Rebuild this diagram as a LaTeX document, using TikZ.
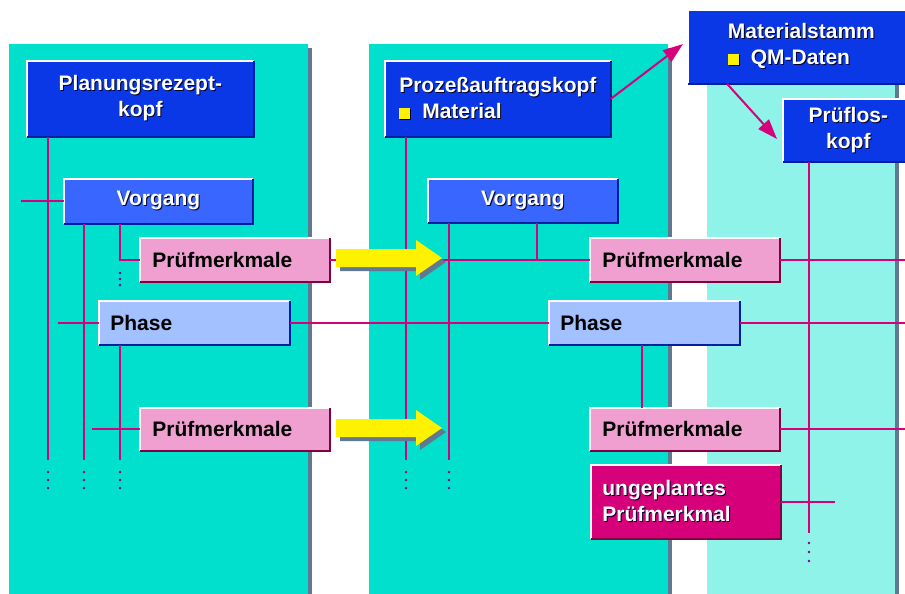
\documentclass[tikz,border=0pt]{standalone}
\usepackage{fontspec}
\setmainfont{Liberation Sans}
\usetikzlibrary{arrows.meta}

\definecolor{panelteal}{RGB}{0,224,204}
\definecolor{panellight}{RGB}{143,243,234}
\definecolor{panelshadow}{RGB}{96,120,144}
\definecolor{kopfblue}{RGB}{10,56,230}
\definecolor{vorgblue}{RGB}{56,102,255}
\definecolor{phaseblue}{RGB}{163,192,255}
\definecolor{merkpink}{RGB}{240,160,208}
\definecolor{merkmag}{RGB}{214,0,122}
\definecolor{edgeblue}{RGB}{0,32,160}
\definecolor{edgered}{RGB}{128,0,64}
\definecolor{linkmag}{RGB}{214,0,122}
\definecolor{dotpurple}{RGB}{128,0,128}
\definecolor{txtshadow}{RGB}{0,0,40}

\newcommand{\shd}[1]{\leavevmode\rlap{\kern1pt\raisebox{-1pt}{\color{txtshadow}#1}}#1}
\newcommand{\qmsq}{\rlap{\kern1pt\raisebox{-1pt}{\color{txtshadow}\rule{11pt}{11pt}}}\textcolor{yellow}{\rule{11pt}{11pt}}}

\tikzset{every picture/.style={line width=0.75pt}}
\tikzset{
  box/.style={anchor=north west, inner sep=0pt, font=\fontsize{21}{26}\selectfont\bfseries},
  kopf/.style={box, fill=kopfblue, text=white, align=center, minimum width=226pt, minimum height=75pt},
  vorg/.style={box, fill=vorgblue, text=white, minimum width=188pt, minimum height=44pt},
  merk/.style={box, fill=merkpink, text=black, inner xsep=12pt, text width=165pt, minimum height=43pt, align=left},
  phase/.style={box, fill=phaseblue, text=black, inner xsep=11pt, text width=168pt, minimum height=43pt, align=left},
  ungeplant/.style={box, fill=merkmag, text=white, inner xsep=11pt, text width=167pt, minimum height=73pt, align=left},
  link/.style={draw=linkmag, line width=2pt},
  linktip/.style={link, -{Triangle[length=20pt,width=14pt]}}
}

\begin{document}
\begin{tikzpicture}[x=1pt,y=1pt,yscale=-1]
	\useasboundingbox (0,0) rectangle (905,594);
	\clip (0,0) rectangle (905,594);
	\fill[white] (0,0) rectangle (905,594);

	%Shape: Panels with shadow
	\fill[panelshadow] (13,48) rectangle (312,600);
	\fill[panelteal] (9,44) rectangle (308,600);
	\fill[panelshadow] (373,48) rectangle (672,600);
	\fill[panelteal] (369,44) rectangle (668,600);
	\fill[panelshadow] (711,48) rectangle (899,600);
	\fill[panellight] (707,44) rectangle (895,600);

	% Boxes, left panel
	\node[kopf] (prk) at (27,61) {\shd{Planungsrezept-}\\\shd{kopf}};
	\node[vorg] (vg1) at (64,179) {\shd{Vorgang}};
	\node[merk] (pm1) at (140,238) {Prüfmerkmale};
	\node[phase] (ph1) at (99,301) {Phase};
	\node[merk, minimum height=42pt] (pm2) at (140,408) {Prüfmerkmale};

	% Boxes, middle panel
	\node[kopf, align=left, minimum width=225pt] (pak) at (385,61) {\shd{Prozeßauftragskopf}\\\qmsq\hspace{12pt}\shd{Material}};
	\node[vorg, minimum width=189pt, minimum height=43pt] (vg2) at (428,179) {\shd{Vorgang}};
	\node[merk] (pm3) at (590,238) {Prüfmerkmale};
	\node[phase] (ph2) at (549,301) {Phase};
	\node[merk, minimum height=42pt] (pm4) at (590,408) {Prüfmerkmale};
	\node[ungeplant] (upm) at (591,465) {\shd{ungeplantes}\\\shd{Prüfmerkmal}};

	% Boxes, right panel
	\node[kopf, align=left, minimum height=73pt] (msd) at (688,10) {\shd{Materialstamm}\\\qmsq\hspace{12pt}\shd{QM-Daten}};
	\node[kopf, minimum width=130pt, minimum height=62pt] (plk) at (783,99) {\shd{Prüflos-}\\\shd{kopf}};

	% raised edges
	\foreach \n/\c in {prk/edgeblue, vg1/edgeblue, pm1/edgered, ph1/edgeblue, pm2/edgered,
	                   pak/edgeblue, vg2/edgeblue, pm3/edgered, ph2/edgeblue, pm4/edgered,
	                   upm/edgered, msd/edgeblue, plk/edgeblue} {
		\draw[white, line width=2pt] (\n.south west) |- (\n.north east);
		\draw[\c, line width=2pt] (\n.south west) -| (\n.north east);
	}

	% free ends
	\coordinate (e1) at (48,460);
	\coordinate (e2) at (84,460);
	\coordinate (e3) at (120,460);
	\coordinate (e4) at (406,460);
	\coordinate (e5) at (449,460);
	\coordinate (e6) at (809,533);
	\coordinate (w1) at (21,0);
	\coordinate (w2) at (58,0);
	\coordinate (w3) at (92,0);
	\coordinate (j1) at (537,0);
	\coordinate (j2) at (642,0);
	\coordinate (rr) at (905,0);
	\coordinate (ru) at (835,0);
	\coordinate (t1) at (683,44);
	\coordinate (t2) at (777,139);

	%Straight Lines, left panel
	\draw[link] (prk.south -| e1) -- (e1);
	\draw[link] (w1 |- vg1.west) -- (vg1.west);
	\draw[link] (vg1.south -| e2) -- (e2);
	\draw[link] (vg1.south -| e3) |- (pm1.west);
	\draw[link] (w2 |- ph1.west) -- (ph1.west);
	\draw[link] (ph1.south -| e3) -- (e3);
	\draw[link] (w3 |- pm2.west) -- (pm2.west);
	\draw[link] (pm1.east) -- (pm3.west);
	\draw[link] (ph1.east) -- (ph2.west);

	%Straight Lines, middle and right panel
	\draw[link] (pak.south -| e4) -- (e4);
	\draw[link] (vg2.south -| e5) -- (e5);
	\draw[link] (vg2.south -| j1) -- (pm3.west -| j1);
	\draw[link] (ph2.south -| j2) -- (pm4.north -| j2);
	\draw[link] (pm3.east) -- (pm3.east -| rr);
	\draw[link] (ph2.east) -- (ph2.east -| rr);
	\draw[link] (pm4.east) -- (pm4.east -| rr);
	\draw[link] (upm.east) -- (upm.east -| ru);
	\draw[link] (plk.south -| e6) -- (e6);
	\draw[linktip] (pak.east) -- (t1);
	\draw[linktip] (msd.south -| 727,0) -- (t2);

	% continuation dots
	\foreach \x/\y/\d in {48/472/8, 84/472/8, 120/472/8, 406/472/8, 449/472/8, 120/273/6, 809/543/9}
		\foreach \k in {0,1,2}
			\fill[dotpurple] (\x,\y+\k*\d) circle (1.3pt);

	%Shape: yellow arrows
	\foreach \y in {258,428} {
		\begin{scope}[shift={(336,\y)}]
			\fill[panelshadow, shift={(4,4)}] (0,-9) -- (80,-9) -- (80,-18) -- (106,0) -- (80,18) -- (80,9) -- (0,9) -- cycle;
			\fill[yellow] (0,-9) -- (80,-9) -- (80,-18) -- (106,0) -- (80,18) -- (80,9) -- (0,9) -- cycle;
		\end{scope}
	}
\end{tikzpicture}
\end{document}
